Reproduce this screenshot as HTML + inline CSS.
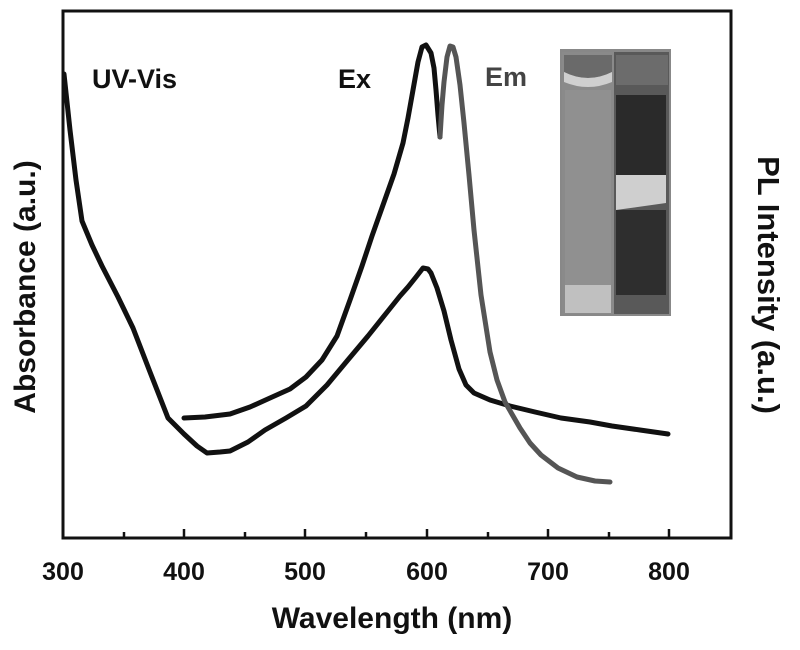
<!DOCTYPE html>
<html><head><style>
body{margin:0;background:#fff;}
svg text{font-family:"Liberation Sans",Arial,sans-serif;font-weight:bold;}
</style></head><body>
<svg width="800" height="645" viewBox="0 0 800 645" xmlns="http://www.w3.org/2000/svg">
<rect x="63" y="11" width="668" height="527" fill="none" stroke="#111" stroke-width="3"/>
<g stroke="#111" stroke-width="2.5">
<line x1="63" y1="538" x2="63" y2="529"/>
<line x1="124" y1="538" x2="124" y2="532"/>
<line x1="184" y1="538" x2="184" y2="529"/>
<line x1="245" y1="538" x2="245" y2="532"/>
<line x1="305" y1="538" x2="305" y2="529"/>
<line x1="366" y1="538" x2="366" y2="532"/>
<line x1="427" y1="538" x2="427" y2="529"/>
<line x1="488" y1="538" x2="488" y2="532"/>
<line x1="548" y1="538" x2="548" y2="529"/>
<line x1="609" y1="538" x2="609" y2="532"/>
<line x1="669" y1="538" x2="669" y2="529"/>
</g>
<g font-size="25" fill="#111" text-anchor="middle">
<text x="63" y="580">300</text><text x="184" y="580">400</text><text x="305" y="580">500</text>
<text x="427" y="580">600</text><text x="548" y="580">700</text><text x="669" y="580">800</text>
</g>
<text x="392" y="628" font-size="30" text-anchor="middle" fill="#111">Wavelength (nm)</text>
<text transform="translate(35,287) rotate(-90)" font-size="30" text-anchor="middle" fill="#111">Absorbance (a.u.)</text>
<text transform="translate(758,285) rotate(90)" font-size="31" text-anchor="middle" fill="#111">PL Intensity (a.u.)</text>
<text x="92" y="88" font-size="27" fill="#111">UV-Vis</text>
<text x="338" y="88" font-size="27" fill="#111">Ex</text>
<text x="485" y="86" font-size="27" fill="#444">Em</text>
<g fill="none" stroke-width="5" stroke-linejoin="round" stroke-linecap="round">
<path stroke="#111" d="M64,74 L70,130 L76,180 L82,221 L92,245 L102,266 L118,297 L133,328 L150,372 L168,418 L184,434 L197,446 L207,453 L220,452 L230,451 L248,442 L265,430 L286,418 L306,406 L327,385 L347,361 L368,336 L388,311 L400,296 L408,287 L416,277 L423,268 L428,269 L431,273 L437,288 L444,311 L451,340 L459,369 L466,385 L474,393 L490,400 L510,406 L535,412 L561,418 L590,422 L612,426 L640,430 L668,434"/>
<path stroke="#111" d="M184,418 L205,417 L230,414 L250,407 L270,398 L290,389 L306,377 L322,360 L337,336 L350,300 L362,266 L372,236 L383,205 L394,174 L403,143 L408,118 L413,90 L418,62 L422,47 L426,45 L431,53 L434,68 L436,90 L438,115 L440,137"/>
<path stroke="#555" d="M440,137 L442,105 L444,82 L447,57 L450,46 L453,47 L456,57 L460,85 L464,123 L469,175 L474,230 L481,295 L490,352 L497,380 L505,402 L520,428 L530,443 L541,455 L558,468 L577,477 L595,481 L610,482"/>
</g>
<g>
<rect x="560" y="49" width="111" height="267" fill="#888"/>
<rect x="562" y="52" width="52" height="262" fill="#8a8a8a"/>
<path d="M564,55 L612,55 L612,72 Q588,84 564,72 Z" fill="#6a6a6a"/>
<path d="M564,72 Q588,84 612,72 L612,82 Q588,92 564,82 Z" fill="#cfcfcf"/>
<rect x="565" y="90" width="46" height="195" fill="#909090"/>
<rect x="565" y="285" width="46" height="28" fill="#c0c0c0"/>
<rect x="614" y="52" width="55" height="262" fill="#595959"/>
<rect x="616" y="55" width="52" height="30" fill="#6c6c6c"/>
<rect x="616" y="95" width="50" height="80" fill="#2a2a2a"/>
<path d="M616,175 L666,175 L666,203 L616,210 Z" fill="#cfcfcf"/>
<rect x="616" y="210" width="50" height="85" fill="#2e2e2e"/>
</g>
</svg>
</body></html>
